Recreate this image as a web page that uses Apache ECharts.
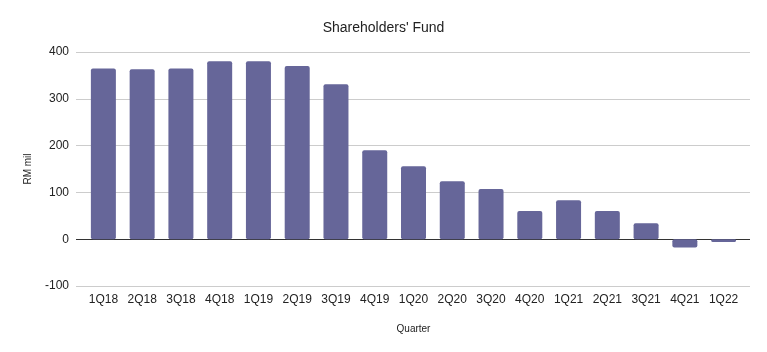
<!DOCTYPE html>
<html>
<head>
<meta charset="utf-8">
<script src="https://cdn.jsdelivr.net/npm/echarts@6/dist/echarts.min.js"></script>
<style>
  html, body { margin: 0; padding: 0; background: #fff; }
  #chart { width: 767px; height: 352px; }
</style>
</head>
<body>
<div id="chart"></div>
<script>
var quarters = ["1Q18", "2Q18", "3Q18", "4Q18", "1Q19", "2Q19", "3Q19", "4Q19", "1Q20",
  "2Q20", "3Q20", "4Q20", "1Q21", "2Q21", "3Q21", "4Q21", "1Q22"];
var fund = [365, 363, 365, 380, 380, 370, 331, 190, 156, 124, 107, 60, 83, 60, 34, -18, -6];
var yMin = -100, yMax = 400, yStep = 100;

var chart = echarts.init(document.getElementById("chart"));

// grid 0 draws the gridlines (wider), grid 1 holds the bars
var option = {
  animation: false,
  textStyle: { fontFamily: "Liberation Sans, Arial, sans-serif" },
  title: {
    text: "Shareholders' Fund",
    left: "center",
    top: 16,
    textStyle: { fontSize: 14, fontWeight: "normal", color: "#222" }
  },
  grid: [
    { left: 76, right: 17, top: 52, bottom: 66 },
    { left: 84, right: 24, top: 52, bottom: 66 }
  ],
  xAxis: [
    { type: "category", gridIndex: 0, data: quarters, show: false },
    {
      type: "category",
      gridIndex: 1,
      data: quarters,
      name: "Quarter",
      nameLocation: "middle",
      nameGap: 38,
      nameTextStyle: { fontSize: 10, color: "#222" },
      axisLine: { show: false, onZero: false },
      axisTick: { show: false },
      axisLabel: { color: "#222", fontSize: 12, margin: 8, interval: 0 }
    }
  ],
  yAxis: [
    {
      type: "value",
      gridIndex: 0,
      min: yMin,
      max: yMax,
      interval: yStep,
      name: "RM mil",
      nameLocation: "middle",
      nameGap: 43,
      nameTextStyle: { fontSize: 10, color: "#222" },
      axisLine: { show: false },
      axisTick: { show: false },
      axisLabel: { color: "#222", fontSize: 12, margin: 7 },
      splitLine: { lineStyle: { color: ["#cccccc", "#333333", "#cccccc", "#cccccc", "#cccccc", "#cccccc"], width: 1 } }
    },
    {
      type: "value",
      gridIndex: 1,
      min: yMin,
      max: yMax,
      interval: yStep,
      show: false,
      splitLine: { show: false }
    }
  ],
  series: [
    {
      type: "bar",
      xAxisIndex: 1,
      yAxisIndex: 1,
      data: fund,
      barWidth: 25,
      itemStyle: { color: "#666699", borderRadius: 2 }
    }
  ]
};

chart.setOption(option);
window.onresize = chart.resize;
</script>
</body>
</html>
